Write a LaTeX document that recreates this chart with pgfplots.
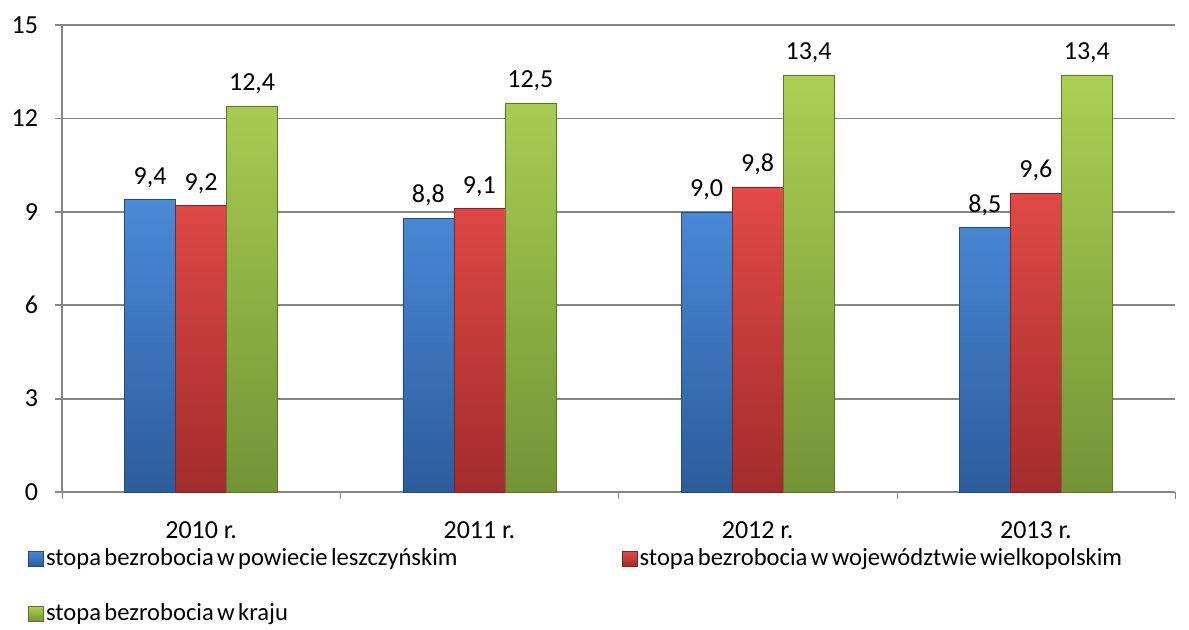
\documentclass[border=0pt]{standalone}
\usepackage{pgfplots}
\pgfplotsset{compat=1.18}
\usepackage{fontspec}
\setmainfont{Carlito}
\newfontfamily\legfont{Carlito}[WordSpace={0.6}]
\definecolor{gridgray}{RGB}{134,134,134}
\definecolor{bluetop}{RGB}{74,138,216}
\definecolor{bluebot}{RGB}{44,92,156}
\definecolor{redtop}{RGB}{226,74,70}
\definecolor{redbot}{RGB}{162,44,44}
\definecolor{greentop}{RGB}{172,208,84}
\definecolor{greenbot}{RGB}{114,148,54}
\begin{document}
\begin{tikzpicture}
\useasboundingbox (-31pt,-68.5pt) rectangle (563.5pt,246pt);
\begin{axis}[
  scale only axis,
  width=556.5pt, height=233.5pt,
  font=\fontsize{13}{15}\selectfont,
  /pgf/number format/assume math mode=true,
  ymin=0, ymax=15, ytick={0,3,6,9,12,15},
  xmin=-0.5, xmax=3.5,
  xtick={0,1,2,3},
  xticklabels={2010 r.,2011 r.,2012 r.,2013 r.},
  xtick style={draw=none},
  extra x ticks={-0.5,0.5,1.5,2.5,3.5},
  extra x tick labels={},
  extra x tick style={grid=none, xtick style={draw=gridgray}, tick align=outside},
  axis x line*=bottom, axis y line*=left,
  axis line style={draw=gridgray, line width=0.9pt, -},
  ytick style={draw=gridgray, line width=0.9pt},
  tick align=outside,
  major tick length=3.5pt,
  ymajorgrids,
  grid style={draw=gridgray, line width=0.9pt},
  xticklabel style={yshift=-8pt, font=\fontsize{13}{15}\selectfont},
  yticklabel style={font=\fontsize{13}{15}\selectfont, xshift=-5pt},
  ybar, bar width=25.5pt,
  nodes near coords,
  nodes near coords style={font=\fontsize{13}{15}\selectfont, yshift=2.5pt,
    /pgf/number format/.cd, fixed, fixed zerofill, precision=1, use comma},
  legend columns=2,
  legend style={draw=none, at={(-0.0305,-0.116)}, anchor=north west,
    inner sep=0pt, row sep=15.5pt, font=\legfont\fontsize{12.3}{14}\selectfont,
    nodes={inner sep=1pt}},
  legend cell align=left,
  legend image code/.code={\path[#1] (0pt,-3.75pt) rectangle (7.5pt,3.75pt);},
]
\addplot[bar shift=-25.5pt, draw=bluebot!80!black, line width=0.3pt, top color=bluetop, bottom color=bluebot]
  coordinates {(0,9.4) (1,8.8) (2,9.0) (3,8.5)};
\addplot[bar shift=0pt, draw=redbot!80!black, line width=0.3pt, top color=redtop, bottom color=redbot]
  coordinates {(0,9.2) (1,9.1) (2,9.8) (3,9.6)};
\addplot[bar shift=25.5pt, draw=greenbot!80!black, line width=0.3pt, top color=greentop, bottom color=greenbot]
  coordinates {(0,12.4) (1,12.5) (2,13.4) (3,13.4)};
\legend{\makebox[287pt][l]{stopa bezrobocia w powiecie leszczyńskim}, stopa bezrobocia w województwie wielkopolskim, stopa bezrobocia w kraju}
\end{axis}
\end{tikzpicture}
\end{document}
